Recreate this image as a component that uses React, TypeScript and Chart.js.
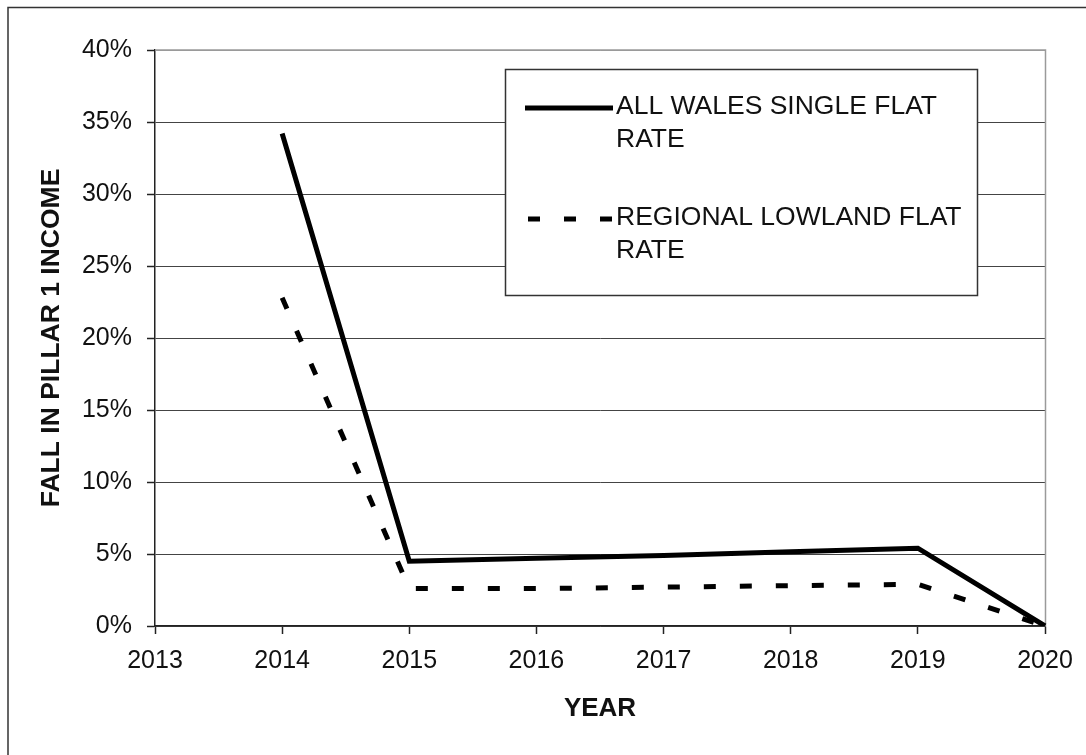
import { useEffect, useRef } from 'react';
import { Chart, registerables } from 'chart.js';

Chart.register(...registerables);

const years = ['2013', '2014', '2015', '2016', '2017', '2018', '2019', '2020'];
const allWales = [null, 34.2, 4.5, 4.7, 4.9, 5.15, 5.4, 0];
const regionalLowland = [null, 22.8, 2.6, 2.6, 2.7, 2.8, 2.9, 0];
const seriesNames = ['ALL WALES SINGLE FLAT RATE', 'REGIONAL LOWLAND FLAT RATE'];
const legendLines = [
  ['ALL WALES SINGLE FLAT', 'RATE'],
  ['REGIONAL LOWLAND FLAT', 'RATE'],
];
const yMin = 0;
const yMax = 40;
const yStep = 5;
const xTitle = 'YEAR';
const yTitle = 'FALL IN PILLAR 1 INCOME';

const FONT = "'Liberation Sans', Arial, sans-serif";
const DASH = [12, 24];

const framePlugin = {
  id: 'frame',
  beforeDraw(chart: any) {
    const { ctx, width, height } = chart;
    ctx.save();
    ctx.fillStyle = '#ffffff';
    ctx.fillRect(0, 0, width, height);
    ctx.strokeStyle = '#333333';
    ctx.lineWidth = 1.5;
    ctx.beginPath();
    ctx.moveTo(8, height);
    ctx.lineTo(8, 7.5);
    ctx.lineTo(width, 7.5);
    ctx.stroke();
    ctx.restore();
  },
  beforeDatasetsDraw(chart: any) {
    const { ctx, chartArea } = chart;
    ctx.save();
    ctx.strokeStyle = '#9a9a9a';
    ctx.lineWidth = 1.5;
    ctx.beginPath();
    ctx.moveTo(chartArea.left, chartArea.top);
    ctx.lineTo(chartArea.right + 0.5, chartArea.top);
    ctx.lineTo(chartArea.right + 0.5, chartArea.bottom);
    ctx.stroke();
    ctx.restore();
  },
};

const legendPlugin = {
  id: 'boxLegend',
  afterDatasetsDraw(chart: any) {
    const { ctx } = chart;
    const bx = 505.5, by = 69.5, bw = 472, bh = 226;
    ctx.save();
    ctx.fillStyle = '#ffffff';
    ctx.fillRect(bx, by, bw, bh);
    ctx.strokeStyle = '#333333';
    ctx.lineWidth = 1.5;
    ctx.strokeRect(bx, by, bw, bh);
    const rows = [108, 219];
    chart.data.datasets.forEach((ds: any, i: number) => {
      const y = rows[i];
      ctx.strokeStyle = ds.borderColor;
      ctx.lineWidth = ds.borderWidth;
      ctx.setLineDash(ds.borderDash || []);
      ctx.beginPath();
      ctx.moveTo(i === 0 ? 525 : 528, y);
      ctx.lineTo(613, y);
      ctx.stroke();
      ctx.setLineDash([]);
      ctx.fillStyle = '#111111';
      ctx.font = `26.5px ${FONT}`;
      ctx.textBaseline = 'middle';
      ctx.textAlign = 'left';
      legendLines[i].forEach((line, j) => {
        ctx.fillText(line, 616, y - 1 + j * 33);
      });
    });
    ctx.restore();
  },
};

export default function App() {
  const ref = useRef<HTMLCanvasElement>(null);

  useEffect(() => {
    if (!ref.current) return;
    const chart = new Chart(ref.current, {
      type: 'line',
      data: {
        labels: years,
        datasets: [
          {
            label: seriesNames[0],
            data: allWales,
            borderColor: '#000000',
            borderWidth: 5,
            pointRadius: 0,
            tension: 0,
            fill: false,
          },
          {
            label: seriesNames[1],
            data: regionalLowland,
            borderColor: '#000000',
            borderWidth: 5,
            borderDash: DASH,
            pointRadius: 0,
            tension: 0,
            fill: false,
          },
        ],
      },
      options: {
        animation: false,
        responsive: false,
        layout: { padding: { top: 50, right: 41, left: 0, bottom: 0 } },
        plugins: {
          legend: { display: false },
          tooltip: { enabled: false },
        },
        scales: {
          x: {
            type: 'category',
            offset: false,
            afterFit: (s: any) => {
              s.height = 129;
            },
            grid: {
              display: true,
              drawOnChartArea: false,
              drawTicks: true,
              tickLength: 8,
              tickColor: '#222222',
              tickWidth: 1.5,
            },
            border: { display: true, color: '#222222', width: 1.5 },
            ticks: {
              color: '#111111',
              font: { family: FONT, size: 25 },
              padding: 12,
              maxRotation: 0,
              autoSkip: false,
            },
            title: {
              display: true,
              text: xTitle,
              color: '#111111',
              font: { family: FONT, size: 26, weight: 'bold' },
              padding: { top: 0, bottom: 31 },
            },
          },
          y: {
            min: yMin,
            max: yMax,
            afterFit: (s: any) => {
              s.width = 155;
            },
            grid: {
              color: (c: any) => (c.tick && c.tick.value === yMax ? '#9a9a9a' : '#444444'),
              lineWidth: 1,
              drawTicks: true,
              tickLength: 8,
              tickColor: '#222222',
              tickWidth: 1.5,
            },
            border: { display: true, color: '#222222', width: 1.5 },
            ticks: {
              stepSize: yStep,
              color: '#111111',
              font: { family: FONT, size: 25 },
              padding: 15,
              callback: (v: any) => `${v}%`,
            },
            title: {
              display: true,
              text: yTitle,
              color: '#111111',
              font: { family: FONT, size: 26.5, weight: 'bold' },
              padding: { top: 36, bottom: 0 },
            },
          },
        },
      },
      plugins: [framePlugin, legendPlugin],
    });
    return () => chart.destroy();
  }, []);

  return (
    <div style={{ position: 'absolute', left: 0, top: 0, width: 1086, height: 755 }}>
      <canvas ref={ref} width={1086} height={755} style={{ display: 'block' }} />
    </div>
  );
}
